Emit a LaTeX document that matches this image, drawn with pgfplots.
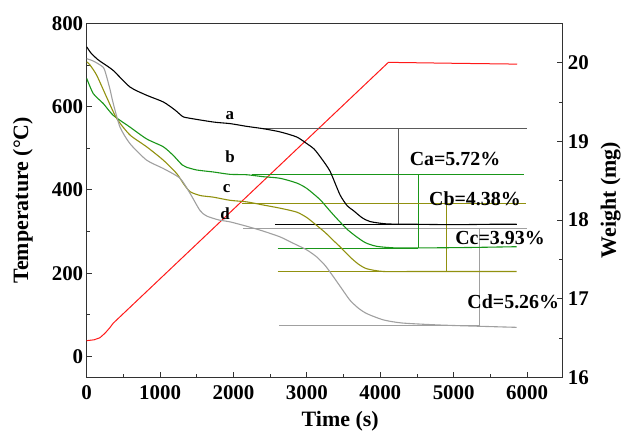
\documentclass[border=0pt]{standalone}
\usepackage{fontspec}
\setmainfont{Liberation Serif}
\usepackage{pgfplots}
\pgfplotsset{compat=1.18}
\definecolor{cgreen}{RGB}{25,150,25}
\definecolor{colive}{RGB}{145,145,15}
\definecolor{cgrey}{RGB}{160,160,160}
\definecolor{cred}{RGB}{255,25,25}
\definecolor{frame}{RGB}{50,50,50}
\definecolor{refa}{RGB}{90,90,90}
\begin{document}
\begin{tikzpicture}
\pgfplotsset{
  every axis/.append style={
    scale only axis, width=475.6bp, height=354bp,
    xmin=0, xmax=6480,
    tick align=inside,
    axis line style={line width=0.9bp, draw=frame},
    major tick length=5bp, minor tick length=3bp,
    every tick/.style={line width=0.8bp, draw=frame},
    tick label style={font=\fontsize{21}{24}\selectfont\bfseries},
    label style={font=\fontsize{22}{26}\selectfont\bfseries},
    /pgf/number format/assume math mode=true,
    /pgf/number format/1000 sep={},
    scaled ticks=false,
  }
}
\begin{axis}[name=ax,
  ymin=-50, ymax=800,
  ytick={0,200,...,800}, minor ytick={100,300,500,700},
  xtick={0,1000,...,6000}, minor xtick={500,1500,...,5500},
  xtick pos=bottom, ytick pos=left,
  xticklabel style={yshift=-5bp},
  xlabel={Time (s)},
  ylabel={Temperature (°C)},
  xlabel style={at={(axis description cs:0.533,-0.125)}, anchor=center},
  ylabel style={at={(axis description cs:-0.134,0.5)}, anchor=center},
]
\addplot[cred, line width=1bp] coordinates {
(0,38) (100,40) (180,45) (250,56) (310,68) (362,80) (4109,706) (4200,706) (5000,704) (5866,702)
};
\end{axis}
\begin{axis}[
  ymin=16, ymax=20.5,
  ytick={16,17,18,19,20}, minor ytick={16.5,17.5,18.5,19.5},
  axis x line=none, axis y line*=right,
  ylabel={Weight (mg)},
  yticklabel style={xshift=2bp},
  ylabel style={at={(axis description cs:1.1015,0.5)}, anchor=center},
]
% reference lines
\addplot[refa, line width=0.6bp] coordinates {(2384,19.162) (5995,19.162)};
\addplot[black, line width=0.7bp] coordinates {(2565,17.95) (5858,17.95)};
\addplot[refa, line width=0.6bp] coordinates {(4245,19.162) (4245,17.95)};
\addplot[cgrey, line width=0.6bp] coordinates {(2133,17.892) (5995,17.892)};
\addplot[cgreen, line width=0.6bp] coordinates {(2248,18.58) (5958,18.58)};
\addplot[cgreen, line width=0.9bp] coordinates {(2602,17.638) (4518,17.638)};
\addplot[cgreen, line width=0.6bp] coordinates {(4518,18.58) (4518,17.638)};
\addplot[colive, line width=0.6bp] coordinates {(2112,18.21) (5985,18.21)};
\addplot[colive, line width=0.8bp] coordinates {(2602,17.35) (4905,17.35)};
\addplot[colive, line width=0.6bp] coordinates {(4905,18.21) (4905,17.35)};
\addplot[cgrey, line width=0.6bp] coordinates {(2624,16.655) (5345,16.655)};
\addplot[cgrey, line width=0.6bp] coordinates {(5345,17.892) (5345,16.655)};
% curve a
\addplot[black, line width=1.1bp, smooth, tension=0.4] coordinates {
(0,20.20) (60,20.12) (150,20.04) (226,19.99) (362,19.90) (590,19.69) (817,19.585) (1044,19.50)
(1200,19.40) (1300,19.32) (1362,19.30) (1725,19.245) (1952,19.225) (2180,19.19) (2406,19.16)
(2633,19.12) (2861,19.055) (3000,18.97) (3100,18.90) (3200,18.78) (3315,18.62) (3451,18.32)
(3550,18.18) (3633,18.12) (3750,18.03) (3860,17.98) (4087,17.95) (4500,17.945) (5000,17.94)
(5500,17.945) (5858,17.945)
};
% curve b
\addplot[cgreen, line width=1.1bp, smooth, tension=0.4] coordinates {
(0,19.80) (90,19.606) (226,19.48) (362,19.33) (590,19.18) (817,19.03) (1044,18.93) (1180,18.82)
(1300,18.70) (1362,18.67) (1500,18.635) (1725,18.61) (1952,18.58) (2180,18.575) (2406,18.55)
(2634,18.53) (2861,18.47) (3000,18.40) (3178,18.26) (3300,18.13) (3406,18.02) (3550,17.88)
(3678,17.785) (3800,17.71) (3951,17.665) (4200,17.645) (4600,17.645) (5200,17.65) (5858,17.66)
};
% curve c
\addplot[colive, line width=1.1bp, smooth, tension=0.4] coordinates {
(0,20.01) (45,19.97) (136,19.84) (272,19.56) (409,19.29) (590,19.08) (817,18.93) (1044,18.76)
(1226,18.59) (1320,18.46) (1407,18.36) (1550,18.31) (1725,18.29) (1952,18.25) (2180,18.23)
(2406,18.19) (2634,18.15) (2861,18.10) (3000,18.03) (3134,17.93) (3250,17.84) (3360,17.74)
(3451,17.66) (3587,17.53) (3700,17.44) (3815,17.38) (4041,17.345) (4500,17.345) (5200,17.345)
(5858,17.345)
};
% curve d
\addplot[cgrey, line width=1.1bp, smooth, tension=0.4] coordinates {
(0,20.05) (90,20.02) (226,19.94) (272,19.82) (320,19.65) (362,19.48) (454,19.18) (590,18.97)
(817,18.76) (1044,18.654) (1271,18.53) (1407,18.34) (1544,18.12) (1635,18.05) (1800,18.00)
(1952,17.976) (2180,17.92) (2400,17.86) (2634,17.785) (2800,17.71) (2997,17.62) (3134,17.53)
(3250,17.42) (3360,17.28) (3480,17.12) (3587,16.98) (3700,16.88) (3815,16.81) (4041,16.73)
(4300,16.69) (4800,16.665) (5300,16.65) (5858,16.635)
};
\node[font=\fontsize{17}{20}\selectfont\bfseries] at (axis cs:1952,19.33) {a};
\node[font=\fontsize{17}{20}\selectfont\bfseries] at (axis cs:1952,18.81) {b};
\node[font=\fontsize{17}{20}\selectfont\bfseries] at (axis cs:1907,18.40) {c};
\node[font=\fontsize{17}{20}\selectfont\bfseries] at (axis cs:1884,18.08) {d};
\node[font=\fontsize{20}{24}\selectfont\bfseries] at (axis cs:5018,18.77) {Ca=5.72\%};
\node[font=\fontsize{20}{24}\selectfont\bfseries] at (axis cs:5290,18.27) {Cb=4.38\%};
\node[font=\fontsize{20}{24}\selectfont\bfseries] at (axis cs:5631,17.765) {Cc=3.93\%};
\node[font=\fontsize{20}{24}\selectfont\bfseries] at (axis cs:5812,16.96) {Cd=5.26\%};
\end{axis}
\pgfresetboundingbox
\path ([xshift=-86.7bp, yshift=-54.7bp]ax.south west) rectangle ([xshift=60.7bp, yshift=23.3bp]ax.north east);
\end{tikzpicture}
\end{document}
